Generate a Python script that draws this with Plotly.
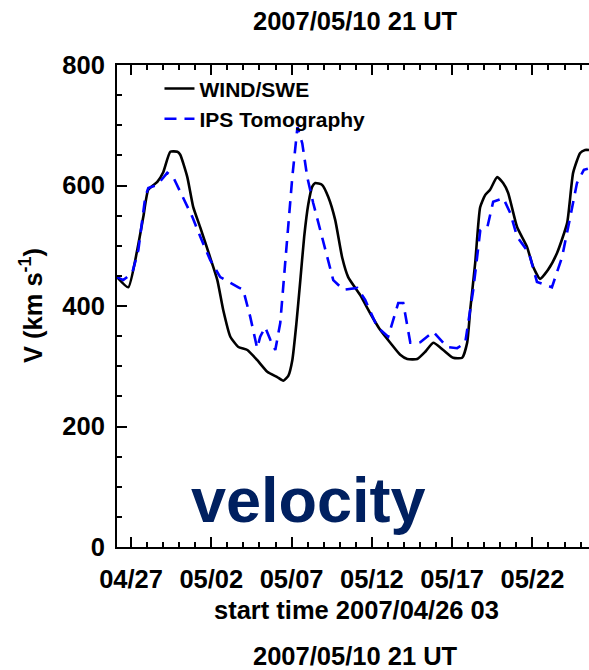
import pandas as pd
import plotly.graph_objects as go

# Solar wind speed: in-situ WIND/SWE vs. IPS tomography reconstruction
START = pd.Timestamp("2007-04-26 03:00")

# time since start (days) and speed (km/s)
wind_days = [0.00, 0.70, 1.26, 1.64, 1.95, 2.51, 2.88, 3.32, 3.76, 3.94,
             4.38, 4.75, 5.19, 5.81, 6.25, 6.62, 7.06, 7.56, 8.12, 8.74,
             9.36, 9.98, 10.36, 10.67, 10.92, 11.17, 11.41, 11.66, 11.91, 12.16,
             12.35, 12.78, 13.16, 13.59, 14.03, 14.40, 15.15, 15.77, 16.40, 17.02,
             17.64, 18.08, 18.70, 19.20, 19.70, 20.32, 20.94, 21.50, 21.81, 22.00,
             22.31, 22.62, 22.93, 23.24, 23.68, 24.05, 24.36, 24.92, 25.54, 25.92,
             26.35, 26.85, 27.41, 28.04, 28.41, 28.85, 29.16, 29.40]
wind_speed = [448, 431, 493, 548, 593, 606, 622, 656, 656, 651,
              614, 564, 530, 480, 443, 393, 349, 332, 327, 310,
              291, 282, 276, 284, 310, 370, 440, 515, 568, 598,
              604, 601, 581, 543, 480, 448, 418, 388, 360, 339,
              319, 312, 312, 324, 339, 327, 314, 314, 339, 393,
              471, 564, 584, 593, 614, 604, 588, 531, 498, 465,
              445, 460, 488, 538, 621, 654, 659, 659]

ips_days = [0.00, 0.39, 0.95, 1.33, 1.76, 1.95, 2.51, 3.13, 3.50, 4.07,
            4.69, 5.19, 5.81, 6.43, 7.06, 7.56, 7.86, 8.30, 8.73, 8.92,
            9.23, 9.55, 9.86, 10.17, 10.49, 10.92, 11.24, 11.54, 11.85, 12.22,
            12.66, 13.10, 13.47, 14.10, 14.97, 15.46, 16.21, 16.89, 17.52, 17.83,
            18.27, 18.89, 19.70, 20.57, 21.19, 21.69, 22.19, 22.63, 23.07, 23.43,
            24.06, 24.50, 24.92, 25.66, 26.16, 27.09, 27.72, 28.28, 28.65, 29.08,
            29.33]
ips_speed = [448, 443, 455, 493, 581, 596, 601, 621, 614, 581,
             548, 515, 476, 448, 438, 431, 427, 382, 330, 349,
             365, 344, 327, 372, 476, 614, 697, 670, 614, 571,
             526, 481, 443, 427, 430, 410, 365, 349, 405, 405,
             339, 340, 357, 332, 330, 339, 427, 526, 531, 573,
             579, 554, 515, 488, 440, 431, 481, 554, 604, 626,
             628]

wind_t = START + pd.to_timedelta(wind_days, unit="D")
ips_t = START + pd.to_timedelta(ips_days, unit="D")

FONT = "Liberation Sans, Arial, Helvetica, sans-serif"
DAY_MS = 86400000
TXT = 25.5

fig = go.Figure()
fig.add_trace(go.Scatter(
    x=wind_t, y=wind_speed, mode="lines", name="WIND/SWE",
    line=dict(color="#000000", width=2.6, shape="spline", smoothing=0.5),
))
fig.add_trace(go.Scatter(
    x=ips_t, y=ips_speed, mode="lines", name="IPS Tomography",
    line=dict(color="#0000ff", width=2.6, dash="12px,8px"),
))

fig.update_layout(
    width=589, height=670,
    margin=dict(l=117, r=0, t=65, b=123),
    paper_bgcolor="white", plot_bgcolor="white",
    font=dict(family=FONT, color="black", size=TXT, weight="bold"),
    showlegend=True,
    legend=dict(
        x=0.09, y=0.993, xanchor="left", yanchor="top",
        bgcolor="rgba(0,0,0,0)", borderwidth=0,
        font=dict(family=FONT, size=21, weight="bold"),
        tracegroupgap=0,
    ),
    xaxis=dict(
        type="date",
        range=[START, START + pd.Timedelta(days=29.4)],
        tick0="2007-04-27", dtick=5 * DAY_MS, tickformat="%m/%d",
        ticks="inside", ticklen=10, tickwidth=2, tickcolor="black",
        minor=dict(dtick=DAY_MS, ticks="inside", ticklen=5, tickwidth=2, tickcolor="black"),
        showline=True, linecolor="black", linewidth=2, mirror="ticks",
        showgrid=False, zeroline=False,
        tickfont=dict(family=FONT, size=TXT, weight="bold"),
        ticklabelstandoff=8,
    ),
    yaxis=dict(
        range=[0, 800], dtick=200,
        ticks="inside", ticklen=10, tickwidth=2, tickcolor="black",
        minor=dict(dtick=50, ticks="inside", ticklen=5, tickwidth=2, tickcolor="black"),
        showline=True, linecolor="black", linewidth=2, mirror=False,
        showgrid=False, zeroline=False,
        tickfont=dict(family=FONT, size=TXT, weight="bold"),
        ticklabelstandoff=5,
    ),
    annotations=[
        dict(text="2007/05/10 21 UT", xref="paper", yref="paper",
             x=0.506, y=1.091, xanchor="center", yanchor="middle",
             showarrow=False, font=dict(family=FONT, size=TXT, weight="bold")),
        dict(text="start time 2007/04/26 03", xref="paper", yref="paper",
             x=0.508, y=-0.131, xanchor="center", yanchor="middle",
             showarrow=False, font=dict(family=FONT, size=TXT, weight="bold")),
        dict(text="2007/05/10 21 UT", xref="paper", yref="paper",
             x=0.506, y=-0.226, xanchor="center", yanchor="middle",
             showarrow=False, font=dict(family=FONT, size=TXT, weight="bold")),
        dict(text="V (km s<sup>-1</sup>)", xref="paper", yref="paper",
             x=-0.182, y=0.5, xanchor="center", yanchor="middle", textangle=-90,
             showarrow=False, font=dict(family=FONT, size=TXT, weight="bold")),
        dict(text="velocity", xref="paper", yref="paper",
             x=0.405, y=0.0975, xanchor="center", yanchor="middle",
             showarrow=False, font=dict(family=FONT, size=63, weight="bold", color="#002060")),
    ],
)

fig.write_html("out.html")
